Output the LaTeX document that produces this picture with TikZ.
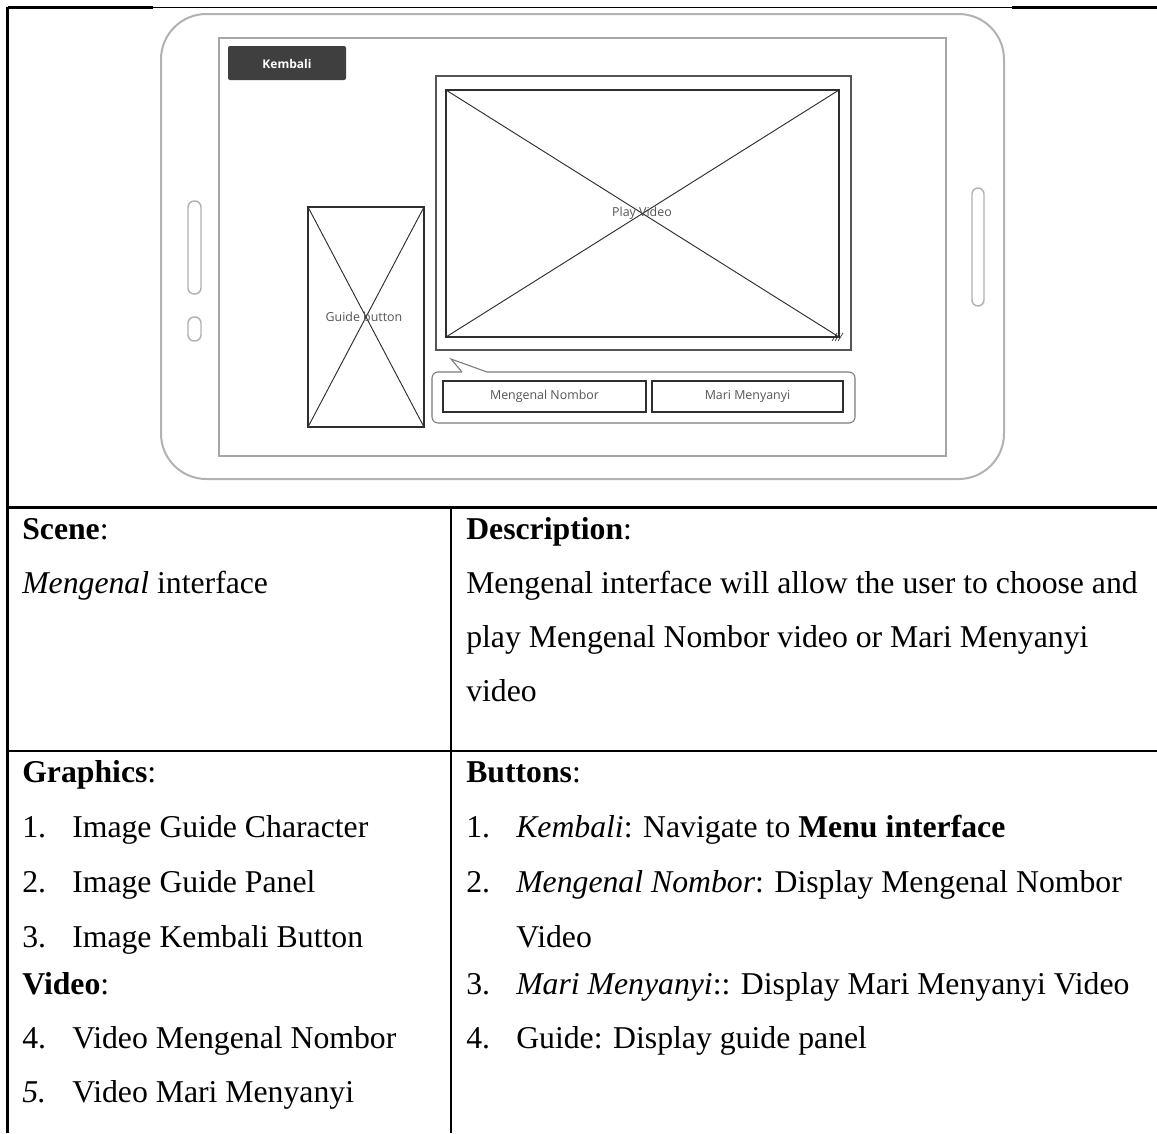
\documentclass[tikz,border=0pt]{standalone}
\usepackage{fontspec}
\setmainfont{Liberation Serif}
\newfontfamily\uifont{Open Sans}
\definecolor{deviceline}{HTML}{B2B2B2}
\definecolor{screenline}{HTML}{A6A6A6}
\definecolor{wireline}{HTML}{2E2E2E}
\definecolor{frameline}{HTML}{555555}
\definecolor{bubbleline}{HTML}{7A7A7A}
\definecolor{btnfill}{HTML}{3F3F3F}
\definecolor{uitext}{HTML}{555555}
\tikzset{
  tableline/.style={line width=1.8pt, black},
  thinrule/.style={line width=0.8pt, black},
  device/.style={line width=1.5pt, deviceline, rounded corners=34pt},
  screen/.style={line width=1.1pt, screenline},
  slot/.style={line width=1.1pt, deviceline, rounded corners=4.6pt},
  wirebox/.style={line width=1pt, wireline},
  wirecross/.style={line width=0.7pt, wireline},
  videoframe/.style={line width=1.1pt, frameline},
  bubble/.style={line width=0.8pt, bubbleline},
  uilabel/.style={font=\uifont\fontsize{9.3pt}{11pt}\selectfont, text=uitext, inner sep=0pt},
  celltext/.style={font=\fontsize{23.8pt}{28pt}\selectfont, anchor=base west, inner sep=0pt}
}

\begin{document}

\begin{tikzpicture}[x=0.75pt, y=-0.75pt]
\useasboundingbox (0,0) rectangle (1157,1133);
\fill[white] (0,0) rectangle (1157,1133);

% ---------- table frame ----------
\draw[tableline] (7.5,7.5) -- (153,7.5);
\draw[thinrule] (153,7.5) -- (1012,7.5);
\draw[tableline] (1012,7.5) -- (1157,7.5);
\draw[tableline] (7.5,6.6) -- (7.5,1133);
\draw[tableline] (6.6,507.5) -- (1157,507.5);
\draw[tableline] (6.6,751) -- (1157,751);
\draw[tableline] (451,507.5) -- (451,1133);

% ---------- tablet mock-up ----------
\draw[device] (161,14) rectangle (1004,479);
\draw[screen] (219,38) rectangle (946,456);
\draw[slot] (188,201) rectangle (201,294);
\draw[slot] (188,317) rectangle (201,341);
\draw[slot] (972,188) rectangle (984,306);

% back button
\fill[btnfill, rounded corners=1.5pt] (228,46) rectangle (346,80);
\node[uilabel, text=white, font=\uifont\bfseries\fontsize{9pt}{11pt}\selectfont] (kembali) at (287,63.5) {Kembali};

% guide character placeholder
\draw[wirebox] (308,207) rectangle (424,427);
\draw[wirecross] (308,207) -- (424,427) (424,207) -- (308,427);
\node[uilabel] (guide) at (364,317) {Guide button};

% video area
\draw[videoframe] (436,76) rectangle (851,350);
\draw[wirebox] (446,90) rectangle (839,337);
\draw[wirecross] (446,90) -- (839,337) (839,90) -- (446,337);
\node[uilabel] (play) at (642,213) {Play Video};
% resize grip
\draw[line width=0.5pt, wireline] (832,341) -- (837,333) (835,341) -- (840,333) (838,341) -- (843,333);

% callout with the two video buttons
\draw[bubble, rounded corners=4.5pt] (462,372) -- (432,372) -- (432,423) -- (855,423) -- (855,372) -- (487,372);
\draw[bubble] (462,372) -- (451,359) -- (487,372);
\draw[wirebox] (443,381) rectangle (646,412);
\draw[wirebox] (652,381) rectangle (843,412);
\node[uilabel] (nombor) at (544.5,396.5) {Mengenal Nombor};
\node[uilabel] (nyanyi) at (747.5,396.5) {Mari Menyanyi};

% ---------- left column ----------
\node[celltext] (scene) at (22,539) {\textbf{Scene}:};
\node[celltext] (scenename) at (22,593) {\textit{Mengenal} interface};
\node[celltext] (graphics) at (22,782) {\textbf{Graphics}:};
\node[celltext] (g1n) at (22,837) {1.};
\node[celltext] (g1) at (72,837) {Image Guide Character};
\node[celltext] (g2n) at (22,892) {2.};
\node[celltext] (g2) at (72,892) {Image Guide Panel};
\node[celltext] (g3n) at (22,947) {3.};
\node[celltext] (g3) at (72,947) {Image Kembali Button};
\node[celltext] (video) at (22,994) {\textbf{Video}:};
\node[celltext] (v4n) at (22,1048) {4.};
\node[celltext] (v4) at (72,1048) {Video Mengenal Nombor};
\node[celltext] (v5n) at (22,1102) {\textit{5.}};
\node[celltext] (v5) at (72,1102) {Video Mari Menyanyi};

% ---------- right column ----------
\node[celltext] (desc) at (466,539) {\textbf{Description}:};
\node[celltext] (desc1) at (466,593) {Mengenal interface will allow the user to choose and};
\node[celltext] (desc2) at (466,647) {play Mengenal Nombor video or Mari Menyanyi};
\node[celltext] (desc3) at (466,701) {video};
\node[celltext] (buttons) at (466,782) {\textbf{Buttons}:};
\node[celltext] (b1n) at (466,837) {1.};
\node[celltext] (b1) at (516,837) {\textit{Kembali}: Navigate to \textbf{Menu interface}};
\node[celltext] (b2n) at (466,892) {2.};
\node[celltext] (b2) at (516,892) {\textit{Mengenal Nombor}: Display Mengenal Nombor};
\node[celltext] (b2b) at (516,947) {Video};
\node[celltext] (b3n) at (466,994) {3.};
\node[celltext] (b3) at (516,994) {\textit{Mari Menyanyi}:: Display Mari Menyanyi Video};
\node[celltext] (b4n) at (466,1048) {4.};
\node[celltext] (b4) at (516,1048) {Guide: Display guide panel};
\end{tikzpicture}

\end{document}
